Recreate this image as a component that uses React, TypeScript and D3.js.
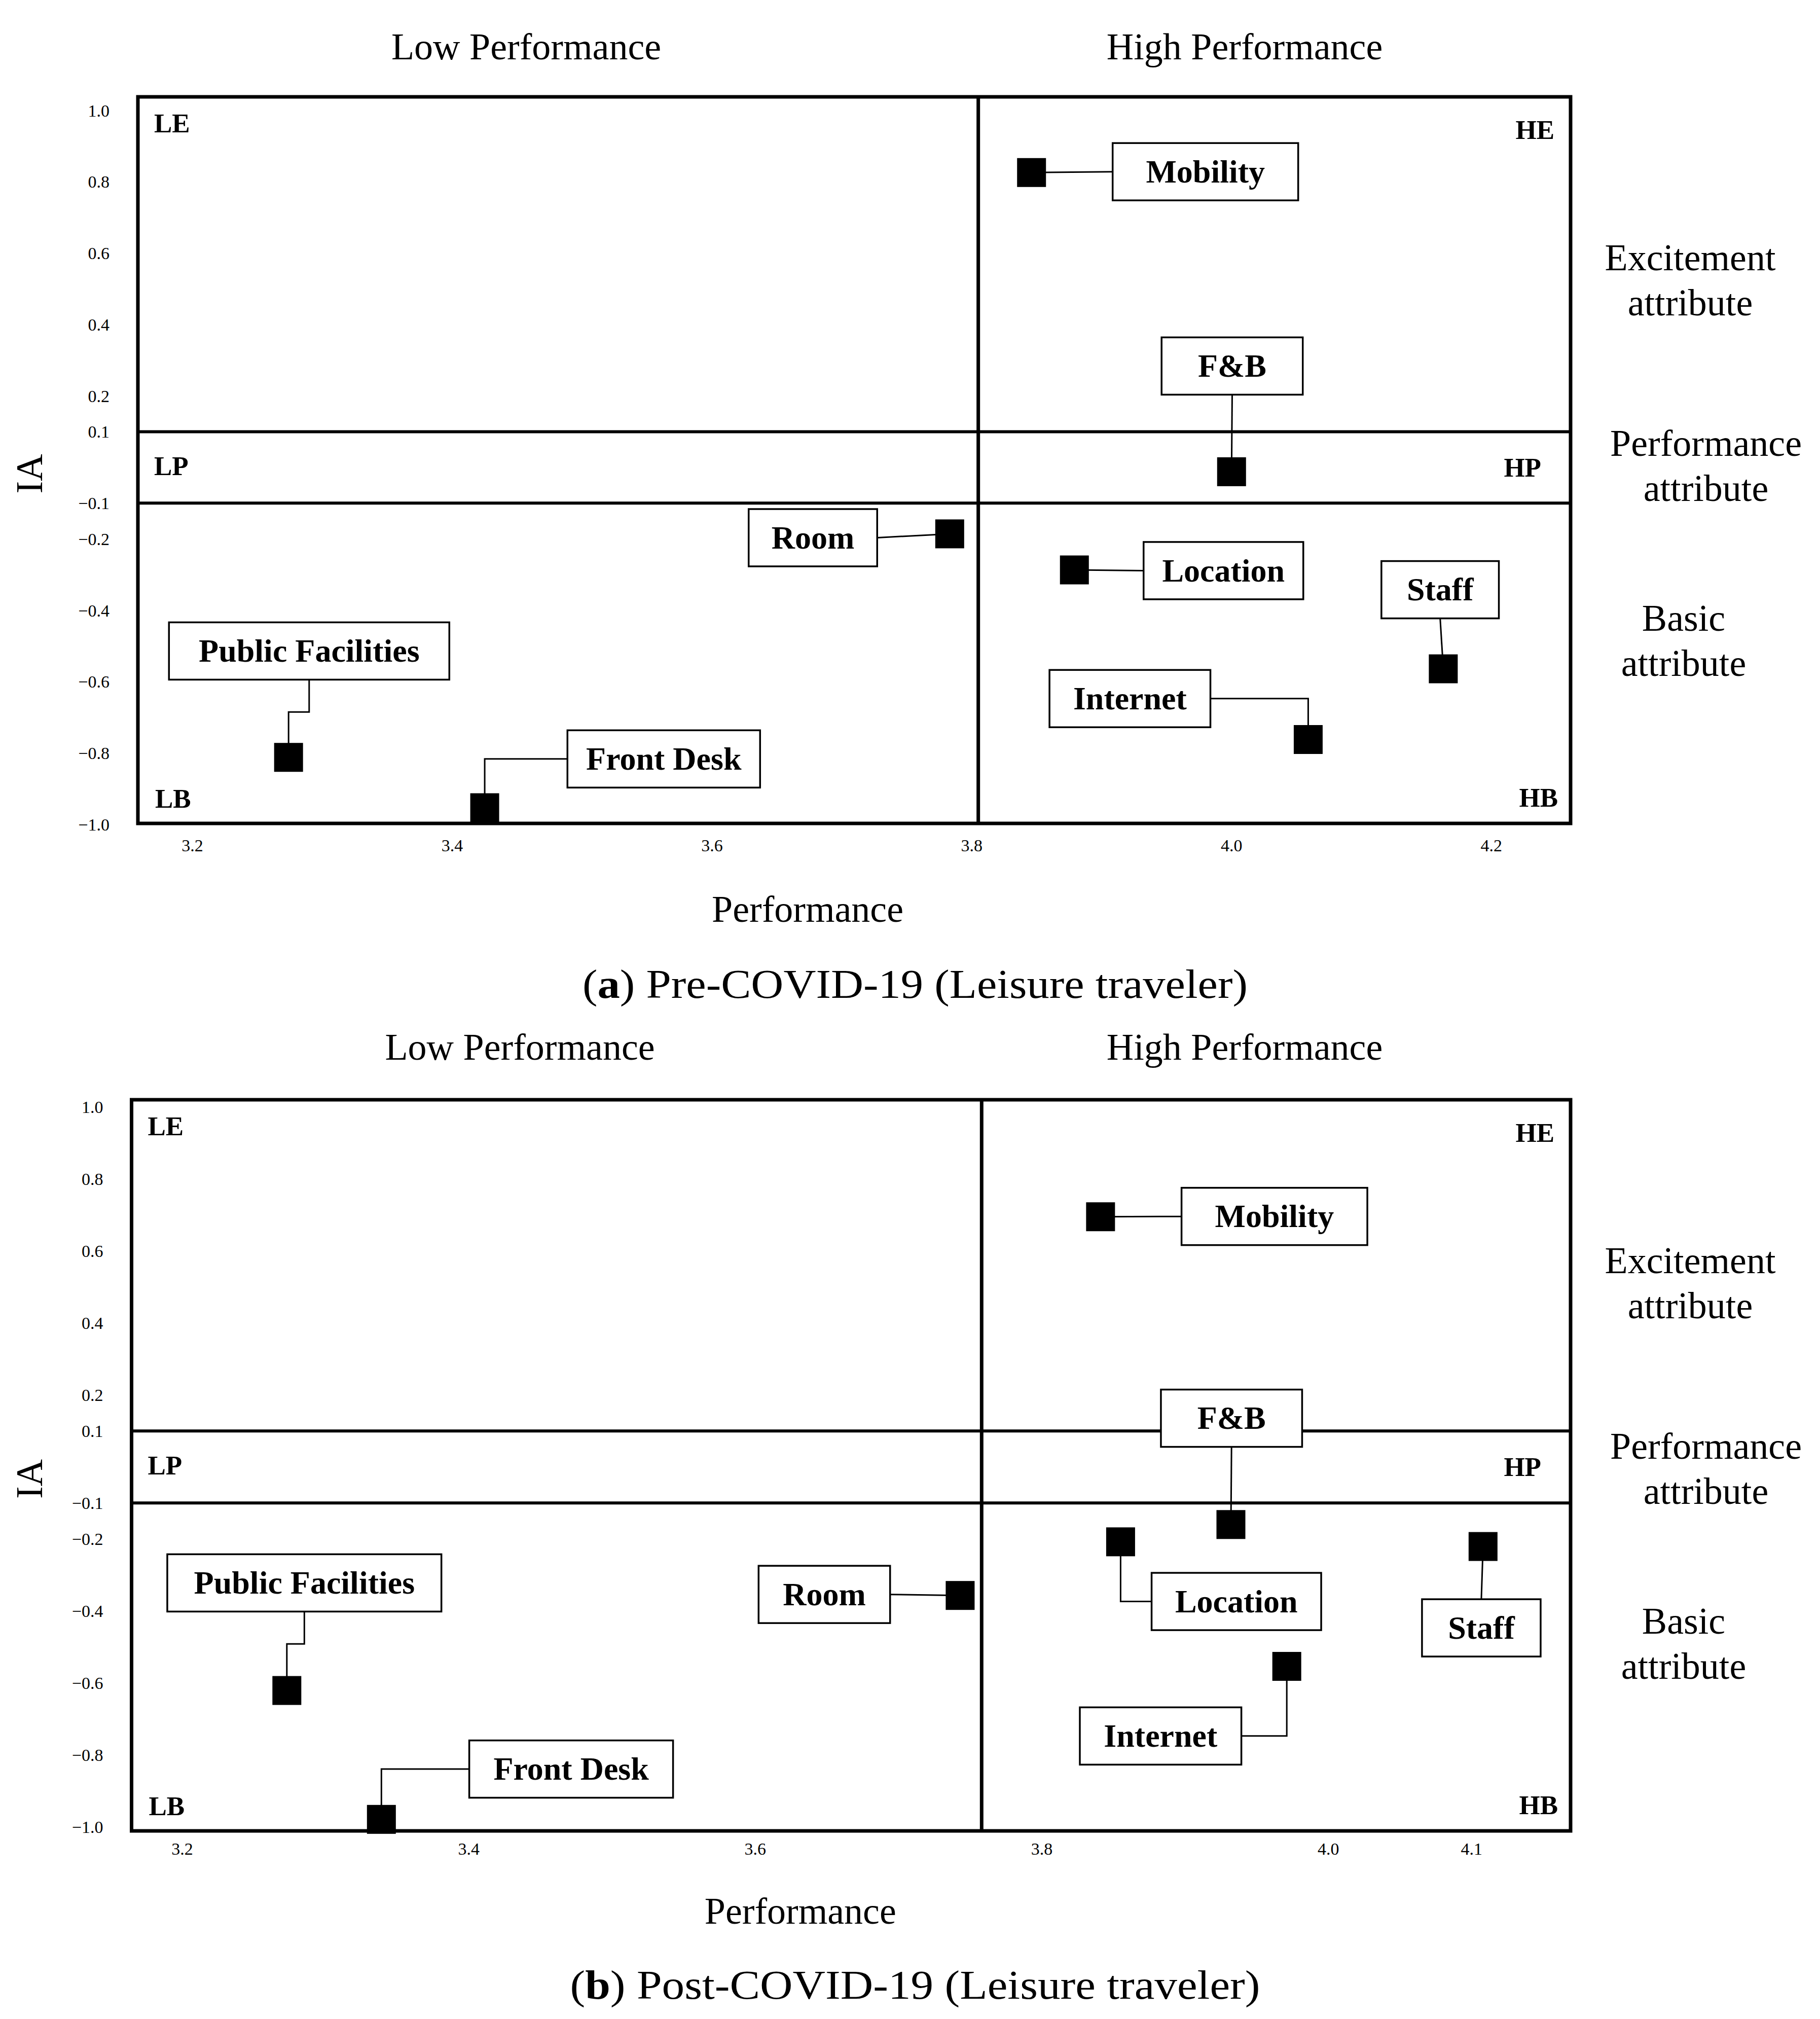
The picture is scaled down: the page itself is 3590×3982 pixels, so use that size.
import React, { useEffect } from 'react';
import * as d3 from 'd3';

// ---------------- DATA ----------------
const attributes = ['Mobility', 'F&B', 'Room', 'Location', 'Staff', 'Internet', 'Public Facilities', 'Front Desk'];
const prePerformance = [3.846, 4.0, 3.783, 3.879, 4.163, 4.059, 3.274, 3.425];
const preIA = [0.826, -0.012, -0.186, -0.287, -0.564, -0.762, -0.812, -0.953];
const postPerformance = [3.841, 3.932, 3.743, 3.855, 4.108, 3.971, 3.273, 3.339];
const postIA = [0.695, -0.16, -0.357, -0.208, -0.221, -0.554, -0.621, -0.979];
const preMeanPerformance = 3.805;
const postMeanPerformance = 3.758;
const iaThresholds = [0.1, -0.1];
const preXTicks = [3.2, 3.4, 3.6, 3.8, 4.0, 4.2];
const postXTicks = [3.2, 3.4, 3.6, 3.8, 4.0, 4.1];
const yTicks = [1.0, 0.8, 0.6, 0.4, 0.2, 0.1, -0.1, -0.2, -0.4, -0.6, -0.8, -1.0];
const quadrantNames = ['LE', 'HE', 'LP', 'HP', 'LB', 'HB'];
const sideLabels = [
  ['Excitement', 'attribute'],
  ['Performance', 'attribute'],
  ['Basic', 'attribute'],
];
const columnLabels = ['Low Performance', 'High Performance'];
const xTitle = 'Performance';
const yTitle = 'IA';
const captions = [
  { tag: 'a', text: ') Pre-COVID-19 (Leisure traveler)' },
  { tag: 'b', text: ') Post-COVID-19 (Leisure traveler)' },
];

// ---------------- LAYOUT ----------------
const FONT = '"Liberation Serif", "Times New Roman", Times, serif';
const SQ = 57;
const BOX_H = 113;

type LabelLayout = { dx: number; dy: number; w: number; from: string; route: string; stepDy?: number };

const preLabels: LabelLayout[] = [
  { dx: 343, dy: -1.6, w: 366, from: 'left', route: 'straight' },
  { dx: 1.2, dy: -208.5, w: 278.5, from: 'bottom', route: 'straight' },
  { dx: -269.8, dy: 7.6, w: 253.5, from: 'right', route: 'straight' },
  { dx: 294, dy: 1.4, w: 315, from: 'left', route: 'straight' },
  { dx: -6.2, dy: -156, w: 231.7, from: 'bottom', route: 'straight' },
  { dx: -351.6, dy: -80.7, w: 317.4, from: 'right', route: 'elbow' },
  { dx: 40.6, dy: -209.8, w: 553, from: 'bottom', route: 'step', stepDy: -89.4 },
  { dx: 353.2, dy: -96.2, w: 380, from: 'left', route: 'elbow' },
];
const postLabels: LabelLayout[] = [
  { dx: 343, dy: -0.6, w: 366.5, from: 'left', route: 'straight' },
  { dx: 1.2, dy: -209.7, w: 278.5, from: 'bottom', route: 'straight' },
  { dx: -267.9, dy: -2, w: 259.4, from: 'right', route: 'straight' },
  { dx: 228.4, dy: 117.7, w: 334.5, from: 'left', route: 'elbow' },
  { dx: -3.4, dy: 160.5, w: 234, from: 'top', route: 'straight' },
  { dx: -248.9, dy: 137.3, w: 318.6, from: 'right', route: 'elbow' },
  { dx: 34.5, dy: -212.2, w: 540.7, from: 'bottom', route: 'step', stepDy: -91.8 },
  { dx: 374.3, dy: -99.2, w: 402, from: 'left', route: 'elbow' },
];

const panels = [
  {
    left: 272, right: 3098, top: 191, bottom: 1624,
    xDomain: [3.158, 4.261], yDomain: [-0.997, 1.038],
    perf: prePerformance, ia: preIA, mean: preMeanPerformance, xTicks: preXTicks,
    labels: preLabels, xTickDy: 43, titleDy: 194, captionDy: 344, captionW: 1312, topDy: -74,
    caption: captions[0],
  },
  {
    left: 259.5, right: 3098, top: 2169, bottom: 3611,
    xDomain: [3.1646, 4.1691], yDomain: [-1.011, 1.02],
    perf: postPerformance, ia: postIA, mean: postMeanPerformance, xTicks: postXTicks,
    labels: postLabels, xTickDy: 35, titleDy: 183, captionDy: 331, captionW: 1361, topDy: -79,
    caption: captions[1],
  },
];

function Panel({ p }: { p: any }) {
  const x = d3.scaleLinear().domain(p.xDomain).range([p.left, p.right]);
  const y = d3.scaleLinear().domain(p.yDomain).range([p.bottom, p.top]);
  const line = d3.line();
  const yHi = y(iaThresholds[0]);
  const yLo = y(iaThresholds[1]);
  const xm = x(p.mean);

  const quadPos: Record<string, [number, number, string]> = {
    LE: [p.left + 32, p.top + 51, 'start'],
    HE: [p.right - 32, p.top + 64, 'end'],
    LP: [p.left + 32, yHi + 67, 'start'],
    HP: [p.right - 58, yHi + 70, 'end'],
    LB: [p.left + 34, p.bottom - 50, 'start'],
    HB: [p.right - 25, p.bottom - 52, 'end'],
  };
  const sideX = [3334, 3365, 3321];
  const sideY = [342, 708, 1053];
  const midX = (p.left + p.right) / 2;

  return (
    <g>
      {/* frame and dividers */}
      <rect x={p.left} y={p.top} width={p.right - p.left} height={p.bottom - p.top} fill="none" stroke="#000" strokeWidth={7} />
      <line x1={xm} x2={xm} y1={p.top} y2={p.bottom} stroke="#000" strokeWidth={7} />
      {iaThresholds.map((t, i) => (
        <line key={i} x1={p.left} x2={p.right} y1={y(t)} y2={y(t)} stroke="#000" strokeWidth={6} />
      ))}

      {/* y ticks */}
      {yTicks.map((t) => (
        <text key={t} x={p.left - 56} y={y(t)} dy="0.35em" textAnchor="end" fontSize={34} fontFamily={FONT}>
          {t < 0 ? '\u2212' + Math.abs(t).toFixed(1) : t.toFixed(1)}
        </text>
      ))}
      {/* x ticks */}
      {p.xTicks.map((t: number) => (
        <text key={t} x={x(t)} y={p.bottom + p.xTickDy} dy="0.35em" textAnchor="middle" fontSize={34} fontFamily={FONT}>
          {t.toFixed(1)}
        </text>
      ))}

      {/* column labels */}
      <text x={p.left + 766} y={p.top + p.topDy} textAnchor="middle" fontSize={74} fontFamily={FONT}>{columnLabels[0]}</text>
      <text x={p.right - 643} y={p.top + p.topDy} textAnchor="middle" fontSize={74} fontFamily={FONT}>{columnLabels[1]}</text>

      {/* side labels */}
      {sideLabels.map((lines, i) => (
        <text key={i} x={sideX[i]} y={p.top + sideY[i]} textAnchor="middle" fontSize={74} fontFamily={FONT}>
          {lines.map((l, j) => (
            <tspan key={j} x={sideX[i]} dy={j === 0 ? 0 : 89}>{l}</tspan>
          ))}
        </text>
      ))}

      {/* axis titles */}
      <text transform={`translate(83, ${(p.top + p.bottom) / 2 + 27}) rotate(-90)`} textAnchor="middle" fontSize={74} fontFamily={FONT}>{yTitle}</text>
      <text x={midX - 100 + (p === panels[0] ? 8 : 0)} y={p.bottom + p.titleDy} textAnchor="middle" fontSize={74} fontFamily={FONT}>{xTitle}</text>
      <text x={1805} y={p.bottom + p.captionDy} textAnchor="middle" fontSize={80} fontFamily={FONT} textLength={p.captionW} lengthAdjust="spacingAndGlyphs">
        <tspan>(</tspan>
        <tspan fontWeight="bold">{p.caption.tag}</tspan>
        <tspan>{p.caption.text}</tspan>
      </text>

      {/* quadrant names */}
      {quadrantNames.map((q) => (
        <text key={q} x={quadPos[q][0]} y={quadPos[q][1]} dy="0.35em" textAnchor={quadPos[q][2] as any} fontSize={53} fontWeight="bold" fontFamily={FONT}>{q}</text>
      ))}

      {/* leader lines */}
      {attributes.map((a, i) => {
        const L = p.labels[i];
        const px = x(p.perf[i]);
        const py = y(p.ia[i]);
        const bx = px + L.dx;
        const by = py + L.dy;
        const hw = L.w / 2;
        const hh = BOX_H / 2;
        let s: [number, number];
        if (L.from === 'left') s = [bx - hw, by];
        else if (L.from === 'right') s = [bx + hw, by];
        else if (L.from === 'top') s = [bx, by - hh];
        else s = [bx, by + hh];
        let pts: [number, number][];
        if (L.route === 'elbow') pts = [s, [px, s[1]], [px, py]];
        else if (L.route === 'step') pts = [s, [s[0], py + L.stepDy], [px, py + L.stepDy], [px, py]];
        else pts = [s, [px, py]];
        return <path key={a} d={line(pts) || ''} fill="none" stroke="#000" strokeWidth={3} />;
      })}

      {/* boxes, labels, squares */}
      {attributes.map((a, i) => {
        const L = p.labels[i];
        const px = x(p.perf[i]);
        const py = y(p.ia[i]);
        const bx = px + L.dx;
        const by = py + L.dy;
        return (
          <g key={a}>
            <rect x={bx - L.w / 2} y={by - BOX_H / 2} width={L.w} height={BOX_H} fill="#fff" stroke="#000" strokeWidth={3.5} />
            <text x={bx} y={by} dy="0.33em" textAnchor="middle" fontSize={64} fontWeight="bold" fontFamily={FONT}>{a}</text>
            <rect x={px - SQ / 2} y={py - SQ / 2} width={SQ} height={SQ} fill="#000" />
          </g>
        );
      })}
    </g>
  );
}

export default function App() {
  useEffect(() => {
    document.body.style.margin = '0';
  }, []);
  return (
    <svg width={3590} height={3982} viewBox="0 0 3590 3982" style={{ position: 'absolute', left: 0, top: 0, background: '#fff' }}>
      <rect x={0} y={0} width={3590} height={3982} fill="#fff" />
      {panels.map((p, i) => (
        <Panel key={i} p={p} />
      ))}
    </svg>
  );
}
